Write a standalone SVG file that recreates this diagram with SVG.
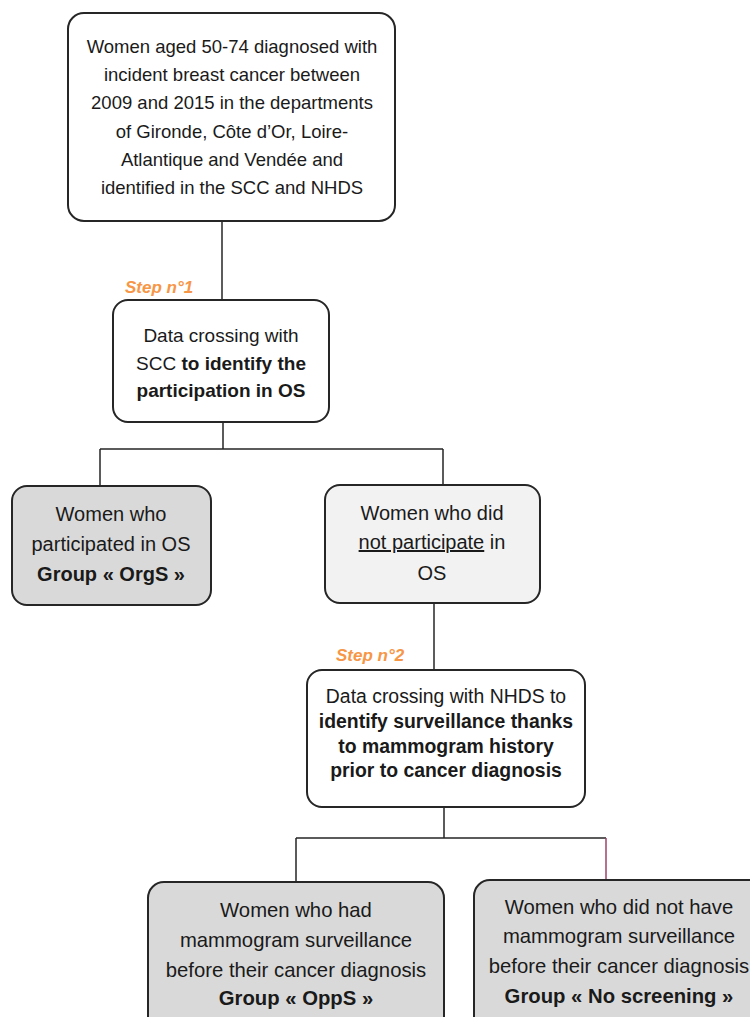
<svg xmlns="http://www.w3.org/2000/svg" width="750" height="1017" viewBox="0 0 750 1017">
<style>
.box{stroke:#262626;stroke-width:2}
.w{fill:#ffffff}
.g{fill:#d9d9d9}
.l{fill:#f2f2f2}
text{font-family:"Liberation Sans",Arial,sans-serif;fill:#1a1a1a;text-anchor:middle}
.s1{font-size:18.5px}
.s2{font-size:19px}
.s3{font-size:20px}
.s5{font-size:19.4px}
.s6{font-size:20.3px}
.b{font-weight:bold}
.step{font-size:17px;font-weight:bold;font-style:italic;fill:#f79646;text-anchor:start}
.c{stroke:#262626;stroke-width:1.5;fill:none}
.p{stroke:#a0406a;stroke-width:1.5;fill:none}
</style>
<g id="connectors">
<path class="c" d="M222 221V300"/>
<path class="c" d="M223 422V449M100 449H443M100 449V486M443 449V485"/>
<path class="c" d="M434 603V670"/>
<path class="c" d="M444 807V838M296 838H606M296 838V882"/>
<path class="p" d="M606 838V880"/>
</g>
<g id="step1"><text class="step" x="125" y="293">Step n°1</text></g>
<g id="step2"><text class="step" x="336" y="661">Step n°2</text></g>
<g id="n1">
<rect class="box w" x="68" y="13" width="327" height="208" rx="16"/>
<text class="s1" x="232" y="53">Women aged 50-74 diagnosed with</text>
<text class="s1" x="232" y="81">incident breast cancer between</text>
<text class="s1" x="232" y="109">2009 and 2015 in the departments</text>
<text class="s1" x="232" y="138">of Gironde, Côte d’Or, Loire-</text>
<text class="s1" x="232" y="166">Atlantique and Vendée and</text>
<text class="s1" x="232" y="194">identified in the SCC and NHDS</text>
</g>
<g id="n2">
<rect class="box w" x="113" y="300" width="216" height="122" rx="15"/>
<text class="s2" x="221" y="342">Data crossing with</text>
<text class="s2" x="221" y="370">SCC <tspan class="b">to identify the</tspan></text>
<text class="s2 b" x="221" y="397">participation in OS</text>
</g>
<g id="n3">
<rect class="box g" x="12" y="486" width="199" height="119" rx="15"/>
<text class="s3" x="111" y="521">Women who</text>
<text class="s3" x="111" y="551">participated in OS</text>
<text class="s3 b" x="111" y="581">Group « OrgS »</text>
</g>
<g id="n4">
<rect class="box l" x="325" y="485" width="215" height="118" rx="15"/>
<text class="s3" x="432" y="520">Women who did</text>
<text class="s3" x="432" y="549"><tspan text-decoration="underline">not participate</tspan> in</text>
<text class="s3" x="432" y="580">OS</text>
</g>
<g id="n5">
<rect class="box w" x="307" y="670" width="278" height="137" rx="15"/>
<text class="s5" x="446" y="703">Data crossing with NHDS to</text>
<text class="s5 b" x="446" y="728">identify surveillance thanks</text>
<text class="s5 b" x="446" y="753">to mammogram history</text>
<text class="s5 b" x="446" y="777">prior to cancer diagnosis</text>
</g>
<g id="n6">
<rect class="box g" x="148" y="882" width="296" height="150" rx="16"/>
<text class="s6" x="296" y="917">Women who had</text>
<text class="s6" x="296" y="947">mammogram surveillance</text>
<text class="s6" x="296" y="977">before their cancer diagnosis</text>
<text class="s6 b" x="296" y="1005">Group « OppS »</text>
</g>
<g id="n7">
<rect class="box g" x="474" y="880" width="290" height="152" rx="16"/>
<text class="s6" x="619" y="914">Women who did not have</text>
<text class="s6" x="619" y="943">mammogram surveillance</text>
<text class="s6" x="619" y="973">before their cancer diagnosis</text>
<text class="s6 b" x="619" y="1003">Group « No screening »</text>
</g>
</svg>
